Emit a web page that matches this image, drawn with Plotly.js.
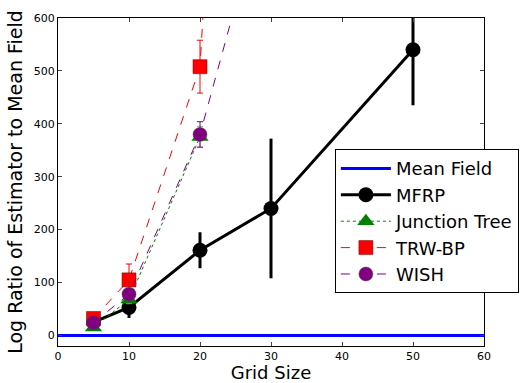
<!DOCTYPE html>
<html><head><meta charset="utf-8">
<script src="https://cdn.plot.ly/plotly-3.0.1.min.js"></script>
<style>body{margin:0;padding:0;background:#fff}#c{width:526px;height:383px}</style>
</head><body><div id="c"></div>
<script>
const mfX = [0, 60];
const mfY = [0, 0];
const mfrpX = [5, 10, 20, 30, 50];
const mfrpY = [25, 53, 161, 240, 540];
const mfrpErr = [6, 20, 34, 132, 105];
const jtX = [5, 10, 20];
const jtY = [15, 68, 375];
const jtErr = [5, 8, 20];
const trwX = [5, 10, 20, 30];
const trwY = [32, 105, 508, 2800];
const trwErr = [6, 30, 50, 100];
const wishX = [5, 10, 20, 30];
const wishY = [24, 78, 380, 870];
const wishErr = [6, 10, 24, 40];

const font = 'DejaVu Sans, sans-serif';
const traces = [
  {x: mfX, y: mfY, name: 'Mean Field', mode: 'lines', line: {color: '#0000ff', width: 3}},
  {x: mfrpX, y: mfrpY, name: 'MFRP', mode: 'lines+markers',
   line: {color: '#000', width: 3}, marker: {symbol: 'circle', size: 15, color: '#000'},
   error_y: {type: 'data', array: mfrpErr, color: '#000', thickness: 3, width: 0}},
  {x: jtX, y: jtY, name: 'Junction Tree', mode: 'lines+markers',
   line: {color: 'green', width: 1, dash: 'dot'}, marker: {symbol: 'triangle-up', size: 15, color: 'green'},
   error_y: {type: 'data', array: jtErr, color: '#8fbf8f', thickness: 1, width: 3}},
  {x: trwX, y: trwY, name: 'TRW-BP', mode: 'lines+markers',
   line: {color: 'red', width: 1, dash: 'dash'}, marker: {symbol: 'square', size: 14, color: 'red', line: {color: '#600', width: 0.5}},
   error_y: {type: 'data', array: trwErr, color: 'red', thickness: 1, width: 3}},
  {x: wishX, y: wishY, name: 'WISH', mode: 'lines+markers',
   line: {color: 'purple', width: 1, dash: 'dash'}, marker: {symbol: 'circle', size: 14, color: 'purple', line: {color: '#444', width: 0.5}},
   error_y: {type: 'data', array: wishErr, color: 'purple', thickness: 1, width: 3}}
];
const layout = {
  width: 526, height: 383,
  margin: {l: 58, r: 42, t: 18, b: 37, autoexpand: false},
  paper_bgcolor: '#fff', plot_bgcolor: '#fff',
  font: {family: font, color: '#000', size: 11},
  showlegend: true,
  xaxis: {range: [0, 60], tickvals: [0,10,20,30,40,50,60], ticks: 'inside', ticklen: 4, mirror: 'allticks',
    showline: true, linecolor: '#000', linewidth: 1, showgrid: false, zeroline: false, automargin: false,
    title: {text: 'Grid Size', font: {size: 18}, standoff: 4}},
  yaxis: {range: [-20, 600], tickvals: [0,100,200,300,400,500,600], ticks: 'inside', ticklen: 4, mirror: 'allticks',
    showline: true, linecolor: '#000', linewidth: 1, showgrid: false, zeroline: false, automargin: false,
    title: {text: 'Log Ratio of Estimator to Mean Field', font: {size: 19}, standoff: 6}},
  legend: {x: 0.65, y: 0.6, xanchor: 'left', yanchor: 'top', bgcolor: '#fff',
    bordercolor: '#000', borderwidth: 1, font: {size: 18}, tracegroupgap: 0, itemwidth: 50}
};
Plotly.newPlot('c', traces, layout, {displayModeBar: false, staticPlot: true});
</script></body></html>
